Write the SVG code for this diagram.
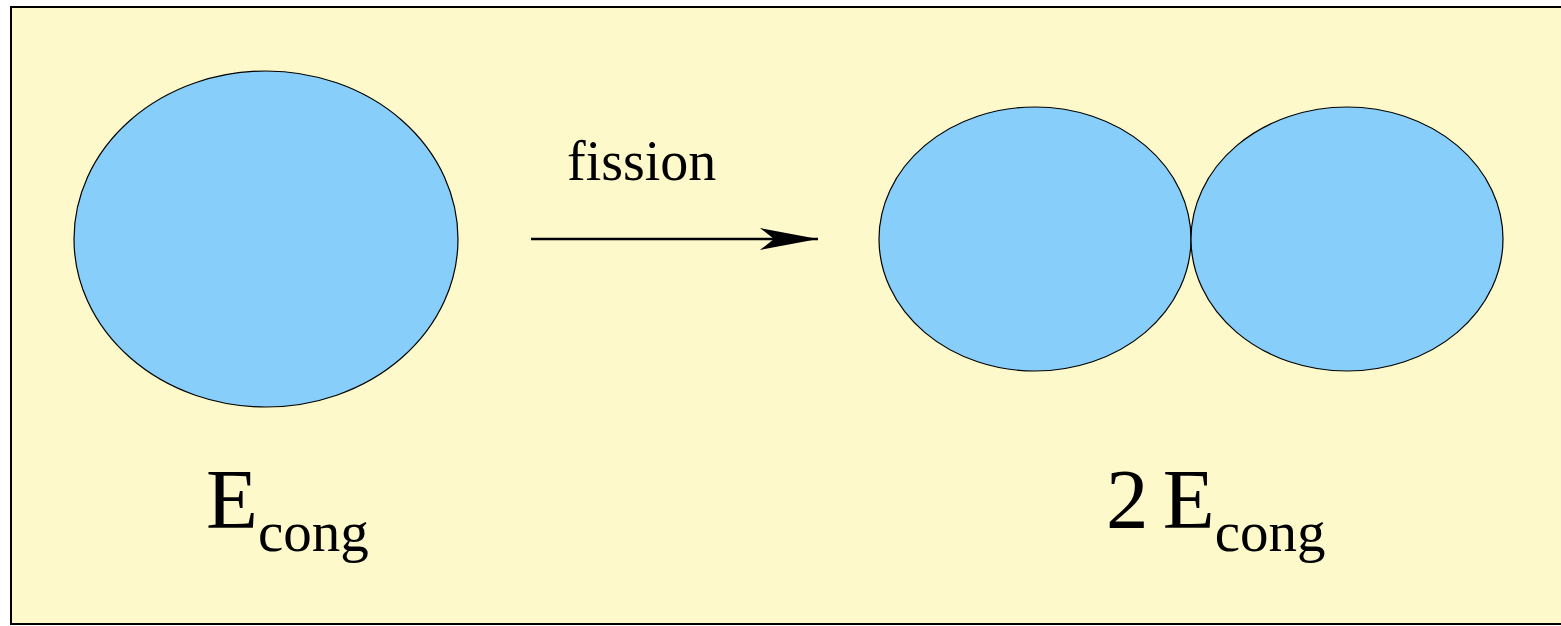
<svg xmlns="http://www.w3.org/2000/svg" width="1561" height="626" viewBox="0 0 1561 626">
  <defs>
    <style>
      .blob { fill: #87cefa; stroke: #000; stroke-width: 1.2; }
      .lbl { fill: #000; font-family: "Liberation Serif", Tinos, "Times New Roman", "DejaVu Serif", serif; }
      .edge { stroke: #000; stroke-width: 2.5; fill: none; }
    </style>
    <marker id="head" markerUnits="userSpaceOnUse" markerWidth="60" markerHeight="30" refX="58" refY="12" orient="auto">
      <path d="M0,1 L58,12 L0,23 L14,12 Z" fill="#000"/>
    </marker>
  </defs>

  <!-- background panel -->
  <rect x="0" y="0" width="1561" height="626" fill="#ffffff"/>
  <rect x="11" y="7" width="1560" height="617" fill="#fdf9cb" stroke="#000" stroke-width="2"/>

  <!-- single drop -->
  <g id="drop">
    <ellipse class="blob" cx="266" cy="239" rx="192" ry="168"/>
  </g>

  <!-- two fragments -->
  <g id="fragment-left">
    <ellipse class="blob" cx="1035" cy="239" rx="156" ry="132"/>
  </g>
  <g id="fragment-right">
    <ellipse class="blob" cx="1347" cy="239" rx="156" ry="132"/>
  </g>

  <!-- connectors -->
  <g id="connectors">
    <line class="edge" x1="531" y1="239" x2="818" y2="239" marker-end="url(#head)"/>
  </g>

  <!-- labels -->
  <g id="label-fission">
    <text class="lbl" x="567" y="180" font-size="56">fission</text>
  </g>
  <g id="label-single">
    <text class="lbl" x="206" y="528" font-size="85">E<tspan font-size="57" dy="23">cong</tspan></text>
  </g>
  <g id="label-pair">
    <text class="lbl" x="1106" y="528" font-size="85" word-spacing="-7">2 E<tspan font-size="57" dy="23">cong</tspan></text>
  </g>
</svg>
